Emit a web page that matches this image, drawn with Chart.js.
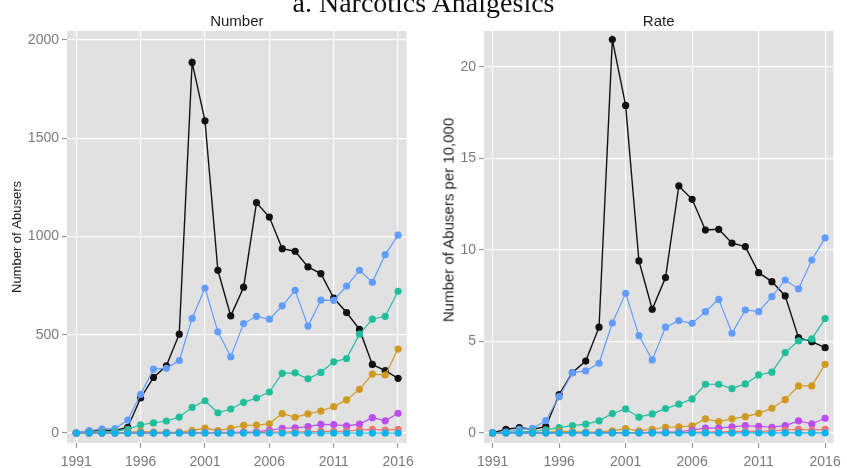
<!DOCTYPE html>
<html>
<head>
<meta charset="utf-8">
<script src="https://cdn.jsdelivr.net/npm/chart.js@4"></script>
<style>
  body { margin: 0; background: #fff; width: 847px; height: 468px; overflow: hidden; position: relative; }
  #mainTitle { position: absolute; left: 0; top: -11px; width: 847px; text-align: center;
    font-family: "Liberation Serif", "Times New Roman", serif; font-size: 28px; line-height: 28px; color: #111; z-index: 2; }
  #numChart { position: absolute; left: 0; top: 0; }
  #rateChart { position: absolute; left: 420px; top: 0; }
  #rateAxisTitle { position: absolute; left: 448px; top: 220px; transform: translate(-50%, -50%) rotate(-90deg);
    white-space: nowrap; font-family: "Liberation Sans", Arial, sans-serif; font-size: 15px; color: #222; z-index: 2; }
</style>
</head>
<body>
<div id="mainTitle">a. Narcotics Analgesics</div>
<canvas id="numChart" width="420" height="468"></canvas>
<canvas id="rateChart" width="427" height="468"></canvas>
<div id="rateAxisTitle">Number of Abusers per 10,000</div>
<script>
const years = [1991, 1992, 1993, 1994, 1995, 1996, 1997, 1998, 1999, 2000, 2001, 2002, 2003,
  2004, 2005, 2006, 2007, 2008, 2009, 2010, 2011, 2012, 2013, 2014, 2015, 2016];
const yearTicks = [1991, 1996, 2001, 2006, 2011, 2016];
const numTicks = [0, 500, 1000, 1500, 2000];
const rateTicks = [0, 5, 10, 15, 20];

// number of abusers
const numBlack = [0, 8, 15, 12, 29, 178, 283, 342, 503, 1886, 1589, 828, 596, 742, 1172, 1099, 938, 925, 845, 811, 687, 613, 527, 349, 317, 278];
const numBlue = [0, 12, 20, 22, 66, 197, 325, 329, 369, 583, 738, 515, 388, 557, 594, 579, 647, 726, 544, 676, 675, 748, 828, 767, 908, 1007];
const numTeal = [0, 3, 6, 8, 18, 42, 51, 61, 81, 130, 164, 103, 122, 156, 178, 208, 303, 306, 276, 308, 362, 379, 503, 579, 594, 721];
const numGold = [0, 1, 2, 2, 3, 8, 5, 3, 5, 12, 25, 12, 23, 39, 40, 47, 99, 80, 97, 112, 134, 168, 222, 300, 295, 427];
const numPurple = [0, 0, 0, 0, 0, 1, 1, 1, 2, 2, 2, 2, 3, 4, 6, 13, 24, 26, 32, 44, 43, 36, 45, 78, 62, 100];
const numSalmon = [0, 0, 0, 0, 0, 0, 1, 1, 1, 1, 2, 2, 2, 2, 3, 4, 5, 6, 6, 8, 8, 10, 15, 18, 15, 18];
const numCyan = [0, 0, 0, 0, 0, 0, 0, 0, 0, 0, 0, 0, 0, 0, 0, 0, 0, 0, 0, 0, 0, 0, 0, 0, 0, 0];

// rate per 10,000
const rateBlack = [0, 0.2, 0.29, 0.2, 0.34, 2.1, 3.3, 3.93, 5.78, 21.5, 17.9, 9.4, 6.76, 8.49, 13.5, 12.77, 11.09, 11.13, 10.37, 10.18, 8.76, 8.27, 7.49, 5.21, 4.99, 4.66];
const rateBlue = [0, 0.05, 0.2, 0.25, 0.67, 1.98, 3.3, 3.39, 3.81, 6.01, 7.63, 5.32, 3.99, 5.78, 6.14, 5.99, 6.63, 7.3, 5.45, 6.72, 6.63, 7.45, 8.36, 7.87, 9.45, 10.66];
const rateTeal = [0, 0.03, 0.06, 0.08, 0.17, 0.29, 0.4, 0.48, 0.66, 1.06, 1.31, 0.86, 1.04, 1.33, 1.57, 1.86, 2.66, 2.66, 2.42, 2.68, 3.17, 3.32, 4.39, 5.03, 5.14, 6.25];
const rateGold = [0, 0.01, 0.02, 0.02, 0.03, 0.1, 0.07, 0.04, 0.06, 0.11, 0.24, 0.11, 0.2, 0.31, 0.33, 0.39, 0.77, 0.62, 0.77, 0.89, 1.07, 1.35, 1.82, 2.57, 2.57, 3.75];
const ratePurple = [0, 0, 0, 0, 0, 0.01, 0.01, 0.01, 0.02, 0.02, 0.02, 0.02, 0.03, 0.04, 0.06, 0.16, 0.26, 0.26, 0.33, 0.4, 0.36, 0.31, 0.4, 0.66, 0.49, 0.8];
const rateSalmon = [0, 0, 0, 0, 0, 0, 0.01, 0.01, 0.01, 0.01, 0.02, 0.02, 0.02, 0.02, 0.03, 0.04, 0.05, 0.06, 0.07, 0.09, 0.09, 0.11, 0.16, 0.2, 0.16, 0.2];
const rateCyan = [0, 0, 0, 0, 0, 0, 0, 0, 0, 0, 0, 0, 0, 0, 0, 0, 0, 0, 0, 0, 0, 0, 0, 0, 0, 0];

const colors = ['#111111', '#619CFF', '#1FBF9C', '#CF9A1E', '#BB4EF2', '#F8766D', '#08B3EE'];

Chart.defaults.font.family = '"Liberation Sans", Arial, sans-serif';

const panelBg = {
  id: 'panelBg',
  beforeDraw(chart) {
    const a = chart.chartArea;
    const ctx = chart.ctx;
    ctx.save();
    ctx.fillStyle = '#E1E1E1';
    ctx.fillRect(a.left, a.top, a.right - a.left, a.bottom - a.top);
    ctx.restore();
  }
};

function makeSets(series) {
  return series.map((d, i) => ({
    data: d,
    borderColor: colors[i],
    backgroundColor: colors[i],
    pointBackgroundColor: colors[i],
    pointBorderWidth: 0,
    pointRadius: 3.6,
    borderWidth: i === 0 ? 1.4 : 1.2,
    tension: 0,
    order: series.length - i
  }));
}

function makeChart(el, title, yTitle, series, yTicks, yMin, yMax, xMin, xMax, yWidth, padRight) {
  return new Chart(el, {
    type: 'line',
    data: { labels: years, datasets: makeSets(series) },
    options: {
      responsive: false,
      animation: false,
      devicePixelRatio: 1,
      layout: { padding: { top: 0, left: 0, right: padRight, bottom: 0 } },
      plugins: {
        legend: { display: false },
        tooltip: { enabled: false },
        title: {
          display: true, text: title, fullSize: false, color: '#1e1e1e',
          font: { size: 15, weight: 'normal' }, padding: { top: 13, bottom: 0 }
        }
      },
      scales: {
        x: {
          type: 'linear', min: xMin, max: xMax,
          afterBuildTicks: s => { s.ticks = yearTicks.map(v => ({ value: v })); },
          afterFit: s => { s.height = 25; },
          grid: { color: '#ffffff', lineWidth: 1.2, tickColor: '#8a8a8a', tickLength: 5, tickWidth: 1 },
          border: { display: false },
          ticks: { color: '#7a7a7a', font: { size: 14 }, padding: 6, maxRotation: 0, autoSkip: false,
            callback: v => String(v) }
        },
        y: {
          type: 'linear', min: yMin, max: yMax,
          afterBuildTicks: s => { s.ticks = yTicks.map(v => ({ value: v })); },
          afterFit: s => { s.width = yWidth; },
          grid: { color: '#ffffff', lineWidth: 1.2, tickColor: '#8a8a8a', tickLength: 5, tickWidth: 1 },
          border: { display: false },
          ticks: { color: '#7a7a7a', font: { size: 14 }, padding: 3, autoSkip: false,
            callback: v => String(v) },
          title: { display: yTitle !== '', text: yTitle, color: '#222', font: { size: 13 }, padding: { top: 9.2, bottom: 0 } }
        }
      }
    },
    plugins: [panelBg]
  });
}

makeChart(document.getElementById('numChart'), 'Number', 'Number of Abusers',
  [numBlack, numBlue, numTeal, numGold, numPurple, numSalmon, numCyan],
  numTicks, -51, 2046, 1990.28, 2016.67, 67, 13);

// rate axis title is the html div (it sits off-centre in the source figure)
makeChart(document.getElementById('rateChart'), 'Rate', '',
  [rateBlack, rateBlue, rateTeal, rateGold, ratePurple, rateSalmon, rateCyan],
  rateTicks, -0.55, 21.97, 1990.35, 2016.62, 64, 9);
</script>
</body>
</html>
